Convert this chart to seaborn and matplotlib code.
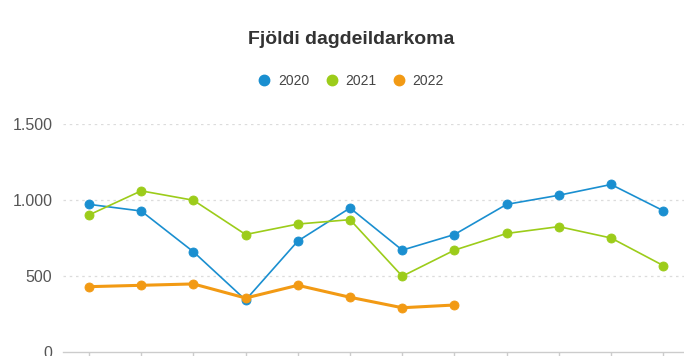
import matplotlib
matplotlib.use("Agg")
import matplotlib.pyplot as plt
from matplotlib.lines import Line2D
import seaborn as sns
import pandas as pd

months = ["jan", "feb", "mar", "apr", "maí", "jún", "júl", "ágú", "sep", "okt", "nóv", "des"]
years = ["2020", "2021", "2022"]
v2020 = [972, 928, 659, 341, 730, 948, 670, 773, 972, 1032, 1103, 930]
v2021 = [902, 1061, 999, 773, 842, 871, 498, 670, 780, 825, 750, 568]
v2022 = [429, 438, 447, 354, 438, 359, 290, 308]
yticks = [0, 500, 1000, 1500]
ytick_labels = ["0", "500", "1.000", "1.500"]

colors = {"2020": "#1a8fd0", "2021": "#9ccc1a", "2022": "#f29a14"}
widths = {"2020": 1.2, "2021": 1.2, "2022": 2.2}

sns.set_theme(style="white")
plt.rcParams["font.family"] = ["Liberation Sans", "DejaVu Sans"]

fig = plt.figure(figsize=(6.84, 3.56), dpi=100)
W, H = 684, 356
ax = fig.add_axes([62.9 / W, 4.3 / H, 626.5 / W, 227.4 / H])

series = {"2020": v2020, "2021": v2021, "2022": v2022}
for yr in years:
    vals = series[yr]
    df = pd.DataFrame({"month": months[:len(vals)], "count": vals})
    sns.lineplot(data=df, x="month", y="count", ax=ax, color=colors[yr],
                 linewidth=widths[yr], marker="o", markersize=6.5,
                 markeredgewidth=0.6, markeredgecolor=colors[yr],
                 sort=False, zorder=3 if yr != "2022" else 4)

ax.set_xlim(-0.5, 11.5)
ax.set_ylim(0, 1500)
ax.set_yticks(yticks)
ax.set_yticklabels(ytick_labels)
ax.set_xlabel("")
ax.set_ylabel("")

for y in yticks[1:]:
    ax.axhline(y, color="#dcdcdc", linewidth=0.9, linestyle=(0, (2, 3)), zorder=1)

for s in ["left", "right", "top"]:
    ax.spines[s].set_visible(False)
ax.spines["bottom"].set_color("#cccccc")
ax.spines["bottom"].set_linewidth(1.0)

# month ticks run off the lower edge; only the tick marks remain in view
ax.tick_params(axis="x", bottom=True, length=6, width=1.0, color="#cccccc",
               labelbottom=False)
ax.tick_params(axis="y", left=False, length=0, labelsize=11.5,
               labelcolor="#555555", pad=7.5)

fig.text(351 / W, 1 - 39 / H, "Fjöldi dagdeildarkoma", ha="center", va="center",
         fontsize=14, fontweight="bold", color="#333333")

handles = [Line2D([], [], linestyle="none", marker="o", markersize=7.5,
                  markerfacecolor=colors[yr], markeredgecolor=colors[yr])
           for yr in years]
fig.legend(handles, years, loc="center", bbox_to_anchor=(352 / W, 1 - 81 / H),
           ncol=3, frameon=False, fontsize=10, handlelength=0.6,
           handletextpad=0.7, columnspacing=1.3, labelcolor="#444444")

fig.savefig("out.png", dpi=100)
